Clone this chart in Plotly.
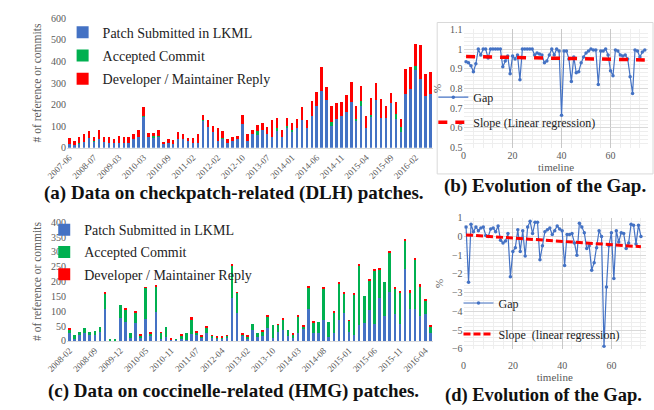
import plotly.graph_objects as go

# ---------------- (a) checkpatch-related (DLH) ----------------
months_a = [
    "2007-06", "2007-09", "2007-12", "2008-02", "2008-05",
    "2008-07", "2008-09", "2008-11", "2009-01", "2009-02",
    "2009-03", "2009-05", "2009-08", "2009-10", "2009-12",
    "2010-03", "2010-04", "2010-05", "2010-07", "2010-08",
    "2010-09", "2010-10", "2010-11", "2010-12", "2011-01",
    "2011-02", "2011-05", "2011-08", "2011-10", "2011-12",
    "2012-02", "2012-04", "2012-05", "2012-07", "2012-08",
    "2012-10", "2012-12", "2013-02", "2013-04", "2013-05",
    "2013-07", "2013-08", "2013-09", "2013-10", "2013-12",
    "2014-01", "2014-02", "2014-03", "2014-04", "2014-05",
    "2014-06", "2014-07", "2014-08", "2014-09", "2014-10",
    "2014-11", "2014-12", "2015-01", "2015-02", "2015-03",
    "2015-04", "2015-05", "2015-06", "2015-07", "2015-08",
    "2015-09", "2015-10", "2015-11", "2015-12", "2016-01",
    "2016-02", "2016-03", "2016-04", "2016-05",
]
ticks_a = ["2007-06", "2008-07", "2009-03", "2010-03", "2010-09", "2011-02", "2012-02",
           "2012-10", "2013-07", "2014-01", "2014-06", "2014-11", "2015-04", "2015-09", "2016-02"]
patch_a = [15, 12, 18, 27, 45, 28, 42, 27, 22, 22, 20, 20, 20, 39, 50, 142, 50, 48, 50, 20,
           20, 15, 42, 39, 30, 20, 20, 124, 95, 75, 30, 42, 20, 32, 39, 110, 33, 65, 60, 84,
           65, 50, 76, 50, 91, 75, 92, 129, 90, 147, 192, 264, 219, 102, 132, 147, 165, 214, 123, 192,
           90, 144, 222, 139, 139, 207, 135, 75, 250, 270, 360, 320, 240, 250]
commit_a = [0, 0, 3, 0, 0, 3, 0, 0, 0, 0, 0, 0, 0, 0, 0, 6, 0, 5, 5, 0,
            0, 0, 0, 0, 0, 0, 0, 5, 0, 0, 0, 5, 0, 0, 0, 0, 0, 0, 18, 0,
            0, 0, 14, 0, 10, 6, 0, 0, 0, 0, 0, 0, 0, 18, 0, 0, 0, 0, 12, 25,
            0, 6, 0, 0, 0, 0, 20, 20, 0, 0, 20, 0, 0, 0]
reply_a = [30, 18, 31, 35, 31, 21, 40, 23, 30, 18, 34, 30, 30, 23, 34, 41, 19, 16, 27, 7,
           19, 20, 30, 24, 15, 25, 45, 21, 35, 27, 62, 29, 22, 20, 15, 44, 31, 15, 27, 30,
           30, 77, 49, 30, 38, 33, 43, 60, 37, 68, 66, 108, 63, 72, 75, 64, 78, 90, 60, 69,
           57, 79, 79, 86, 56, 45, 55, 40, 114, 102, 101, 154, 102, 99]

# ---------------- (c) coccinelle-related (HMG) ----------------
months_c = [
    "2008-02", "2008-03", "2008-04", "2008-06", "2008-07",
    "2008-09", "2008-10", "2008-12", "2009-05", "2009-09",
    "2009-12", "2010-01", "2010-02", "2010-03", "2010-04",
    "2010-05", "2010-06", "2010-07", "2010-08", "2010-10",
    "2010-11", "2010-12", "2011-02", "2011-04", "2011-06",
    "2011-07", "2011-08", "2011-10", "2011-12", "2012-02",
    "2012-04", "2012-06", "2012-08", "2012-10", "2012-12",
    "2013-02", "2013-03", "2013-05", "2013-07", "2013-08",
    "2013-10", "2013-11", "2013-12", "2014-01", "2014-02",
    "2014-03", "2014-04", "2014-05", "2014-06", "2014-07",
    "2014-08", "2014-09", "2014-10", "2014-11", "2014-12",
    "2015-01", "2015-02", "2015-03", "2015-04", "2015-05",
    "2015-06", "2015-07", "2015-08", "2015-09", "2015-10",
    "2015-11", "2015-12", "2016-01", "2016-02", "2016-03",
    "2016-04", "2016-05",
]
ticks_c = ["2008-02", "2008-09", "2009-12", "2010-05", "2010-11", "2011-07", "2012-04",
           "2013-02", "2013-10", "2014-03", "2014-08", "2015-01", "2015-06", "2015-11", "2016-04"]
patch_c = [25, 6, 20, 27, 19, 19, 29, 109, 0, 0, 76, 65, 11, 62, 11, 73, 16, 98, 8, 14,
           3, 3, 8, 4, 24, 19, 11, 25, 11, 8, 8, 11, 144, 95, 16, 8, 36, 14, 17, 44,
           11, 29, 38, 16, 11, 27, 40, 109, 27, 25, 71, 14, 27, 71, 93, 29, 19, 55, 60, 104,
           58, 145, 85, 164, 91, 58, 243, 109, 109, 84, 91, 25]
commit_c = [14, 13, 9, 17, 10, 14, 18, 51, 5, 5, 44, 39, 14, 33, 7, 105, 9, 84, 18, 32,
            2, 2, 11, 21, 48, 10, 2, 20, 5, 4, 4, 7, 108, 67, 6, 5, 22, 11, 15, 37,
            41, 24, 34, 20, 11, 54, 7, 70, 35, 40, 106, 51, 68, 123, 66, 38, 137, 197, 90, 100,
            180, 96, 115, 134, 85, 104, 96, 53, 165, 99, 43, 23]
reply_c = [2, 0, 0, 0, 0, 0, 0, 1, 0, 0, 0, 3, 0, 6, 4, 2, 4, 3, 3, 0,
           3, 0, 3, 0, 10, 4, 3, 6, 3, 1, 2, 1, 4, 2, 3, 3, 0, 0, 1, 3,
           0, 2, 2, 0, 4, 5, 4, 3, 3, 0, 3, 0, 3, 2, 2, 2, 2, 4, 0, 3,
           2, 4, 0, 4, 4, 5, 4, 10, 6, 8, 4, 3]

# ---------------- (b) Gap for DLH ----------------
timeline_b = list(range(1, 75))
gap_b = [0.935, 0.93, 0.915, 0.885, 0.925, 1.0, 0.97, 1.0, 1.0, 0.955,
         1.0, 1.0, 1.0, 1.0, 1.0, 0.91, 0.94, 0.965, 0.875, 0.965,
         0.95, 0.97, 0.845, 1.0, 1.0, 1.0, 1.0, 1.0, 0.97, 0.98,
         0.975, 0.97, 0.93, 0.94, 0.97, 1.0, 0.97, 1.0, 0.99, 0.665,
         0.99, 0.99, 0.95, 0.835, 0.96, 0.88, 0.885, 0.93, 0.96, 0.98,
         0.99, 1.0, 0.995, 0.995, 0.82, 0.99, 0.99, 1.0, 0.97, 0.89,
         0.865, 0.995, 0.99, 0.97, 0.965, 0.97, 0.95, 0.86, 0.775, 0.995,
         0.99, 0.96, 0.985, 0.995]
slope_x_b = [1, 74]
slope_y_b = [0.962, 0.945]

# ---------------- (d) Gap for HMG ----------------
timeline_d = list(range(1, 73))
gap_d = [0.5, -2.45, 0.65, 0.25, 0.5, 0.3, 0.45, 0.5, 0.05, 0.0,
         0.4, 0.45, 0.25, 0.55, -0.2, -0.35, -0.25, 0.15, -2.15, -0.8,
         -0.6, 0.35, -0.8, 0.3, -1.05, 0.5, 0.8, 0.15, 0.75, 0.75,
         -1.25, -0.5, 0.25, 0.35, 0.45, 0.1, 0.3, 0.55, 0.4, 0.3,
         -1.55, 0.1, 0.1, 0.15, -0.35, -1.0, 0.7, 0.5, 0.2, -0.65,
         -0.5, -1.8, -1.4, -0.6, 0.3, 0.0, -5.85, -2.7, -0.5, 0.2,
         -2.25, 0.3, -0.3, 0.2, 0.15, -0.65, -0.35, 0.65, 0.6, -0.4,
         0.6, 0.0]
slope_x_d = [1, 72]
slope_y_d = [0.08, -0.55]

BLUE = "#4472C4"
GREEN = "#00B050"
RED = "#FF0000"
SERIF = "Liberation Serif"
TXT = "#595959"
W, H = 654, 410


def px(x):
    return x / W


def py(y):
    return 1 - y / H


fig = go.Figure()

series = [("Patch Submitted in LKML", BLUE), ("Accepted Commit", GREEN),
          ("Developer / Maintainer Reply", RED)]
for (name, col), vals in zip(series, [patch_a, commit_a, reply_a]):
    fig.add_trace(go.Bar(x=months_a, y=vals, name=name, marker_color=col, marker_line_width=0,
                         xaxis="x", yaxis="y", legend="legend", legendgroup="a" + name))
for (name, col), vals in zip(series, [patch_c, commit_c, reply_c]):
    fig.add_trace(go.Bar(x=months_c, y=vals, name=name, marker_color=col, marker_line_width=0,
                         xaxis="x3", yaxis="y3", legend="legend3", legendgroup="c" + name))

fig.add_trace(go.Scatter(x=timeline_b, y=gap_b, mode="lines+markers", name="Gap",
                         line=dict(color=BLUE, width=1.2), marker=dict(size=3.5, color=BLUE),
                         xaxis="x2", yaxis="y2", legend="legend2", legendgroup="bg"))
fig.add_trace(go.Scatter(x=slope_x_b, y=slope_y_b, mode="lines", name="Slope (Linear regression)",
                         line=dict(color=RED, width=3.5, dash="9px,8px"),
                         xaxis="x2", yaxis="y2", legend="legend2", legendgroup="bs"))
fig.add_trace(go.Scatter(x=timeline_d, y=gap_d, mode="lines+markers", name="Gap",
                         line=dict(color=BLUE, width=1.2), marker=dict(size=3.5, color=BLUE),
                         xaxis="x4", yaxis="y4", legend="legend4", legendgroup="dg"))
fig.add_trace(go.Scatter(x=slope_x_d, y=slope_y_d, mode="lines", name="Slope \u00a0(linear regression)",
                         line=dict(color=RED, width=3, dash="7px,3px"),
                         xaxis="x4", yaxis="y4", legend="legend4", legendgroup="ds"))

tickf = dict(family=SERIF, size=10, color=TXT)
xtickf = dict(family=SERIF, size=9, color=TXT)

bar_x = dict(type="category", tickangle=-45, showline=True, linecolor="#d9d9d9", linewidth=1,
             ticks="", showgrid=False, tickfont=xtickf, domain=[px(47.4), px(425.6)], ticklen=0)
fig.update_layout(
    width=W, height=H, margin=dict(l=0, r=0, t=0, b=0),
    paper_bgcolor="white", plot_bgcolor="white",
    barmode="stack", bargap=0.5,
    font=dict(family=SERIF, color=TXT),
    xaxis=dict(bar_x, anchor="y", tickvals=ticks_a, ticktext=ticks_a,
               categoryorder="array", categoryarray=months_a, range=[-0.5, 73.5]),
    yaxis=dict(domain=[py(146), py(12.7)], range=[0, 600], dtick=100, showgrid=False,
               zeroline=False, tickfont=tickf, anchor="x",
               title=dict(text="# of reference or commits", font=dict(family=SERIF, size=11.5, color=TXT),
                          standoff=6)),
    xaxis3=dict(bar_x, anchor="y3", tickvals=ticks_c, ticktext=ticks_c,
                categoryorder="array", categoryarray=months_c, range=[-0.5, 71.5]),
    yaxis3=dict(domain=[py(345), py(222.7)], range=[0, 400], dtick=50, showgrid=False,
                zeroline=False, tickfont=tickf, anchor="x3",
                title=dict(text="# of reference or commits", font=dict(family=SERIF, size=11.5, color=TXT),
                           standoff=6)),
    xaxis2=dict(domain=[px(457.3), px(648.3)], range=[0, 75.5], anchor="y2",
                tickvals=[0, 20, 40, 60], showgrid=True, gridcolor="#c8c8c8",
                minor=dict(dtick=4, showgrid=True, gridcolor="#eeeeee"),
                zeroline=False, showline=False, tickfont=tickf,
                title=dict(text="timeline", font=dict(family=SERIF, size=11, color=TXT), standoff=2)),
    yaxis2=dict(domain=[py(146), py(24)], range=[0.5, 1.1], dtick=0.1, anchor="x2",
                showgrid=True, gridcolor="#d9d9d9",
                minor=dict(dtick=0.02, showgrid=True, gridcolor="#eeeeee"),
                zeroline=False, tickfont=tickf,
                title=dict(text="%", font=dict(family=SERIF, size=11, color=TXT), standoff=6)),
    xaxis4=dict(domain=[px(457.3), px(645.6)], range=[0, 74], anchor="y4",
                tickvals=[0, 20, 40, 60], showgrid=True, gridcolor="#c8c8c8",
                minor=dict(dtick=4, showgrid=True, gridcolor="#eeeeee"),
                ticks="outside", ticklen=7, tickcolor="rgba(0,0,0,0)",
                zeroline=False, showline=False, tickfont=tickf,
                title=dict(text="timeline", font=dict(family=SERIF, size=11, color=TXT), standoff=2)),
    yaxis4=dict(domain=[py(353.3), py(218)], range=[-6, 1], dtick=1, anchor="x4",
                showgrid=True, gridcolor="#d9d9d9",
                minor=dict(dtick=0.2, showgrid=True, gridcolor="#eeeeee"),
                zeroline=False, tickfont=tickf,
                title=dict(text="%", font=dict(family=SERIF, size=11, color=TXT), standoff=6)),
    legend=dict(x=px(43), y=py(11), xanchor="left", yanchor="top", bgcolor="rgba(0,0,0,0)",
                font=dict(family=SERIF, size=14, color="#222"), traceorder="grouped",
                tracegroupgap=2),
    legend3=dict(x=px(24), y=py(214.5), xanchor="left", yanchor="top", bgcolor="rgba(0,0,0,0)",
                 font=dict(family=SERIF, size=14, color="#222"), traceorder="grouped",
                 tracegroupgap=1),
    legend2=dict(x=px(426), y=py(79), xanchor="left", yanchor="top", bgcolor="rgba(0,0,0,0)",
                 font=dict(family=SERIF, size=12, color="#222"), traceorder="grouped",
                 tracegroupgap=6),
    legend4=dict(x=px(452), y=py(291), xanchor="left", yanchor="top", bgcolor="rgba(0,0,0,0)",
                 font=dict(family=SERIF, size=12, color="#222"), traceorder="grouped",
                 tracegroupgap=12),
    showlegend=True,
)

fig.add_shape(type="rect", xref="paper", yref="paper", x0=px(430), x1=px(653), y0=py(173), y1=py(17),
              line=dict(color="#d9d9d9", width=1), layer="below")

titles = [
    ("(a) Data on checkpatch-related (DLH) patches.", 220, 193, 19),
    ("(b) Evolution of the Gap.", 541, 185, 19),
    ("(c) Data on coccinelle-related (HMG) patches.", 220, 397, 19),
    ("(d) Evolution of the Gap.", 540, 401, 18.5),
]
for text, cx, cy, fs in titles:
    fig.add_annotation(text="<b>%s</b>" % text, x=px(cx), y=py(cy), xref="paper", yref="paper",
                       showarrow=False, xanchor="center", yanchor="middle",
                       font=dict(family=SERIF, size=fs, color="#111"))

fig.write_html("out.html", config={"displayModeBar": False},
               post_script="document.body.style.margin='0px';")
